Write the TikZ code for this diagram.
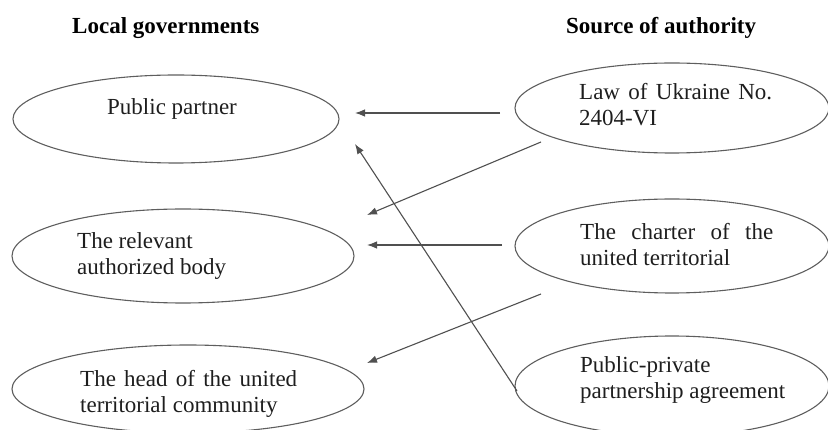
\documentclass[tikz,border=0pt]{standalone}
\usepackage{fontspec}
\setmainfont{Liberation Serif}
\usetikzlibrary{arrows.meta,shapes.geometric}
\definecolor{linegray}{HTML}{505050}
\definecolor{ovalgray}{HTML}{5E5E5E}
\definecolor{textgray}{HTML}{1E1E1E}
\tikzset{
  oval/.style={draw=ovalgray, line width=1.1pt, ellipse, inner sep=0pt},
  txt/.style={anchor=base west, inner sep=0pt, text=textgray, font=\fontsize{23}{26}\selectfont},
  ttl/.style={anchor=base west, inner sep=0pt, text=black, font=\fontsize{23}{26}\selectfont\bfseries},
  arr/.style={draw=linegray, line width=1.1pt, -{Latex[length=10pt,width=7.5pt]}}
}
\begin{document}
\begin{tikzpicture}[x=1pt,y=-1pt]
\useasboundingbox (0,0) rectangle (828,430);
% titles
\node[ttl] (t1) at (72,34) {Local governments};
\node[ttl] (t2) at (566,34) {Source of authority};
% left ellipses
\node[oval, minimum width=326pt, minimum height=88pt] (pp) at (176,119) {};
\node[oval, minimum width=342pt, minimum height=94pt] (rb) at (183,256) {};
\node[oval, minimum width=352pt, minimum height=88pt] (hd) at (188,389) {};
% right ellipses
\node[oval, minimum width=314pt, minimum height=90pt] (law) at (672,108) {};
\node[oval, minimum width=314pt, minimum height=94pt] (ch) at (672,246) {};
\node[oval, minimum width=314pt, minimum height=100pt] (ppp) at (672,386) {};
% texts
\node[txt] (ppt) at (107,115) {Public partner};
\node[txt] (rbt) at (77,249) {\begin{tabular}[t]{@{}l@{}}The relevant\\authorized body\end{tabular}};
\node[txt] (hdt) at (80,387) {\begin{tabular}[t]{@{}l@{}}\makebox[217pt][s]{The head of the united}\\territorial community\end{tabular}};
\node[txt] (lawt) at (579,100) {\begin{tabular}[t]{@{}l@{}}\makebox[193pt][s]{Law of Ukraine No.}\\2404-VI\end{tabular}};
\node[txt] (cht) at (580,240) {\begin{tabular}[t]{@{}l@{}}\makebox[193pt][s]{The charter of the}\\united territorial\end{tabular}};
\node[txt] (pppt) at (580,373) {\begin{tabular}[t]{@{}l@{}}Public-private\\partnership agreement\end{tabular}};
% connector endpoints
\coordinate (a1s) at (500,113);
\coordinate (a1e) at (355,113);
\coordinate (a2s) at (541,142);
\coordinate (a2e) at (367,215);
\coordinate (a3s) at (502,245);
\coordinate (a3e) at (367,245);
\coordinate (a4s) at (541,294);
\coordinate (a4e) at (367,363);
\coordinate (a5s) at (517,391);
\coordinate (a5e) at (355,144);
% connectors
\draw[arr] (a1s) -- (a1e);
\draw[arr] (a2s) -- (a2e);
\draw[arr] (a3s) -- (a3e);
\draw[arr] (a4s) -- (a4e);
\draw[arr] (a5s) -- (a5e);
\end{tikzpicture}
\end{document}
